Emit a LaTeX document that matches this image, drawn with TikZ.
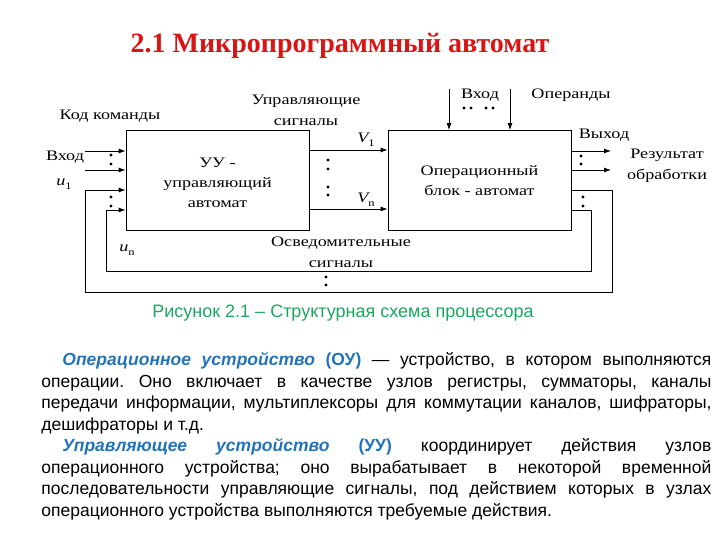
\documentclass[tikz,border=0pt]{standalone}
\usepackage{fontspec}
\setmainfont{Liberation Serif}
\newfontfamily\diagfnt{Liberation Serif}[FakeStretch=1.25]
\newfontfamily\bodyfnt{Liberation Sans}
\usetikzlibrary{arrows.meta,positioning}

\definecolor{titlered}{RGB}{218,20,20}
\definecolor{capgreen}{RGB}{30,165,95}
\definecolor{termblue}{RGB}{35,115,185}

\newcommand{\sig}[2]{{\itshape #1}\raisebox{-4pt}{\fontsize{10}{10}\selectfont #2}}

\begin{document}
\begin{tikzpicture}[x=1pt,y=-1pt,line width=0.8pt,>={Latex[length=7pt,width=5pt]},
    blk/.style={draw,minimum width=183pt,minimum height=100pt,inner sep=0pt,align=center,
      font=\diagfnt\fontsize{14.5}{20}\selectfont},
    lbl/.style={inner sep=0pt,align=center,font=\diagfnt\fontsize{14.5}{21}\selectfont},
    dot/.style={radius=1.6pt}]
  \useasboundingbox (0,0) rectangle (720,540);

  \node[inner sep=0pt,text=titlered,font=\fontsize{28}{30}\selectfont\bfseries] (title) at (340,46)
    {2.1 Микропрограммный автомат};

  % blocks
  \node[blk] (uu) at (217.5,180.5) {};
  \node[blk] (ob) at (479.5,180.5) {};
  \node[lbl,font=\diagfnt\fontsize{14.5}{20}\selectfont] (uutxt) at (uu.center) [yshift=-2.5pt] {УУ -\\управляющий\\автомат};
  \node[lbl,font=\diagfnt\fontsize{14.5}{20}\selectfont] (obtxt) at (ob.center) {Операционный\\блок - автомат};

  % free ends
  \coordinate (inA) at (85,151);
  \coordinate (inB) at (85,170);
  \coordinate (v1) at (340,150);
  \coordinate (vn) at (340,209);
  \coordinate (outA) at (611,151);
  \coordinate (outB) at (611,170);
  \coordinate (topA) at (449,89);
  \coordinate (topB) at (510,89);
  \coordinate (r1) at (612,292);
  \coordinate (l1) at (85,190);
  \coordinate (r2) at (591,271);
  \coordinate (l2) at (106,210);

  \draw[->] (inA) -- (inA -| uu.west);
  \draw[->] (inB) -- (inB -| uu.west);
  \draw[->] (uu.east |- v1) -- (ob.west |- v1);
  \draw[->] (uu.east |- vn) -- (ob.west |- vn);
  \draw[->] (outA -| ob.east) -- (outA);
  \draw[->] (outB -| ob.east) -- (outB);
  \draw[->] (topA) -- (topA |- ob.north);
  \draw[->] (topB) -- (topB |- ob.north);
  % feedback loops
  \draw[->] (ob.east |- l1) -| (r1) -| (l1) -- (uu.west |- l1);
  \draw[->] (ob.east |- l2) -| (r2) -| (l2) -- (uu.west |- l2);

  \foreach \x/\y in {111/155,111/164,111/197,111/206,328/160,328/169,328/187,328/195,
      326/277,326/285,581/156,581/164,583/197,583/206,464/108,471/108,486/108,493/108}
    \fill (\x,\y) circle [dot];

  % labels
  \node[lbl] (kod) at (110,116) {Код команды};
  \node[lbl] (vhodL) at (65,157) {Вход};
  \node[lbl] (u1) at (64,184) {\sig{u}{1}};
  \node[lbl] (un) at (127,250) {\sig{u}{n}};
  \node[lbl] (upr) at (306,110) {Управляющие\\сигналы};
  \node[lbl] (V1) at (366,140) {\sig{V}{1}};
  \node[lbl] (Vn) at (366,200) {\sig{V}{n}};
  \node[lbl] (osv) at (341,252) {Осведомительные\\сигналы};
  \node[lbl] (vhodT) at (480,95) {Вход};
  \node[lbl] (oper) at (571,95) {Операнды};
  \node[lbl] (vyh) at (604,135) {Выход};
  \node[lbl] (res) at (667,166) {Результат\\обработки};

  \node[inner sep=0pt,text=capgreen,font=\bodyfnt\fontsize{18}{20}\selectfont] (cap) at (343,313)
    {Рисунок 2.1 – Структурная схема процессора};

  \node[inner sep=0pt,anchor=north west,text width=670pt,align=justify,
      font=\bodyfnt\fontsize{17.5}{21.57}\selectfont] (txt) at (41,352)
    {\hyphenpenalty=10000\frenchspacing
     \hspace*{21pt}{\color{termblue}\bfseries\itshape Операционное устройство} {\color{termblue}\bfseries (ОУ)}
     — устройство, в котором выполняются\linebreak
     операции. Оно включает в качестве узлов регистры, сумматоры, каналы\linebreak
     передачи информации, мультиплексоры для коммутации каналов, шифраторы,\linebreak
     дешифраторы и т.д.\par
     \hspace*{21pt}{\color{termblue}\bfseries\itshape Управляющее устройство} {\color{termblue}\bfseries (УУ)}
     координирует действия узлов\linebreak
     операционного устройства; оно вырабатывает в некоторой временной\linebreak
     последовательности управляющие сигналы, под действием которых в узлах\linebreak
     операционного устройства выполняются требуемые действия.};
\end{tikzpicture}
\end{document}
